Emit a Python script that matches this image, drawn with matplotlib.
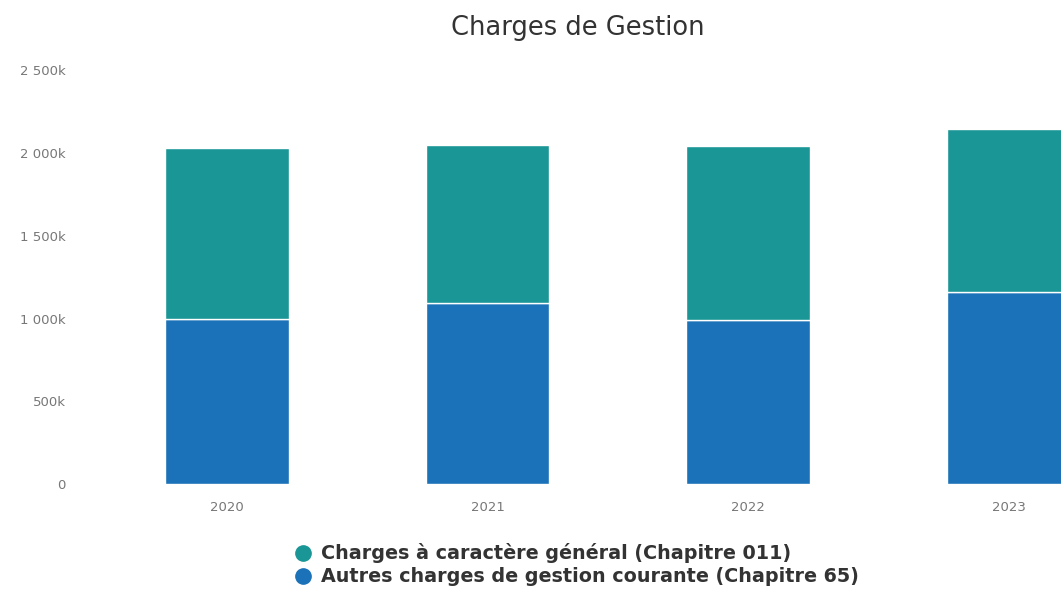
import matplotlib.pyplot as plt
from matplotlib.lines import Line2D
from matplotlib.ticker import FuncFormatter

years = ['2020', '2021', '2022', '2023']
autres_65 = [996, 1093, 990, 1159]        # k euros
generales_011 = [1033, 954, 1051, 985]    # k euros
series_names = ['Charges à caractère général (Chapitre 011)',
                'Autres charges de gestion courante (Chapitre 65)']

teal = '#1a9696'
blue = '#1b72b8'

fig = plt.figure(figsize=(10.61, 5.89), dpi=100)
ax = fig.add_axes([0.091, 0.178, 0.909, 0.703])

x = range(len(years))
ax.bar(x, autres_65, width=0.475, color=blue, edgecolor='white', linewidth=1)
ax.bar(x, generales_011, width=0.475, bottom=autres_65, color=teal,
       edgecolor='white', linewidth=1)

ax.set_xlim(-0.5, 3.2)
ax.set_ylim(0, 2500)
ax.set_yticks([0, 500, 1000, 1500, 2000, 2500])


def fmt(v, pos):
    if v == 0:
        return '0'
    return '{:,.0f}k'.format(v).replace(',', ' ')


ax.yaxis.set_major_formatter(FuncFormatter(fmt))
ax.set_xticks(list(x))
ax.set_xticklabels(years)
ax.tick_params(axis='both', length=0, labelsize=9.5, colors='#777777')
ax.tick_params(axis='x', pad=12)
ax.tick_params(axis='y', pad=22)
for s in ax.spines.values():
    s.set_visible(False)

fig.text(0.545, 0.952, 'Charges de Gestion', ha='center', va='center',
         fontsize=18.5, color='#333333')

handles = [Line2D([], [], marker='o', linestyle='', markersize=11, color=teal),
           Line2D([], [], marker='o', linestyle='', markersize=11, color=blue)]
leg = fig.legend(handles, series_names, loc='center', bbox_to_anchor=(0.543, 0.041),
                 frameon=False, fontsize=13.8, handletextpad=0.4, labelspacing=0.2,
                 handlelength=1, borderpad=0)
for t in leg.get_texts():
    t.set_color('#333333')
    t.set_fontweight('bold')

fig.savefig('out.png', dpi=100)
